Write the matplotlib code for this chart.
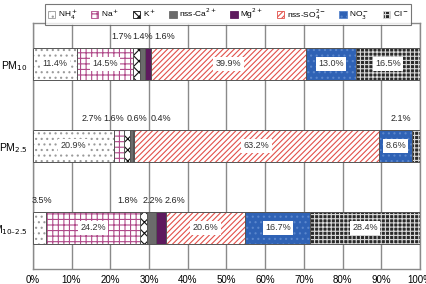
import matplotlib.pyplot as plt
import numpy as np

plt.rcParams['font.family'] = ['Liberation Sans', 'DejaVu Sans']
plt.rcParams['hatch.linewidth'] = 0.8

sizes = ['PM$_{10}$', 'PM$_{2.5}$', 'M$_{10\u20132.5}$']
species = ['NH$_4^+$', 'Na$^+$', 'K$^+$', 'nss-Ca$^{2+}$', 'Mg$^{2+}$',
           'nss-SO$_4^{2-}$', 'NO$_3^-$', 'Cl$^-$']

pm10 = [11.4, 14.5, 1.7, 1.4, 1.6, 39.9, 13.0, 16.5]
pm25 = [20.9, 2.7, 1.6, 0.6, 0.4, 63.2, 8.6, 2.1]
pm_coarse = [3.5, 24.2, 1.8, 2.2, 2.6, 20.6, 16.7, 28.4]

# face colour, hatch colour, hatch pattern for each species
faces = ['white', 'white', 'white', '#6b6b6b', '#5e1a5e', 'white', '#2f62b5', '#2a2a2a']
hatch_cols = ['#9a9a9a', '#b04a8a', '#111111', '#6b6b6b', '#5e1a5e', '#e2504a', '#5a86cc', '#d8d8d8']
hatches = ['...', '+++', 'xxx', None, None, '//////', '...', '++++']

# small values are written above the bar (x position of the label in %)
outside = {
    0: {2: 23.0, 3: 28.4, 4: 34.0},
    1: {1: 15.2, 2: 21.0, 3: 27.0, 4: 33.0, 7: 95.0},
    2: {0: 2.4, 2: 24.5, 3: 31.0, 4: 36.7},
}

data = [pm10, pm25, pm_coarse]

fig = plt.figure(figsize=(4.26, 2.84), dpi=100)
ax = fig.add_axes([0.077, 0.053, 0.909, 0.866])

h = 0.4
for i, row in enumerate(data):
    left = 0.0
    for j, v in enumerate(row):
        ax.barh(i, v, left=left, height=h, color=faces[j], edgecolor=hatch_cols[j],
                hatch=hatches[j], linewidth=0, zorder=3)
        ax.barh(i, v, left=left, height=h, fill=False, edgecolor='#555555',
                linewidth=0.7, zorder=4)
        label = f'{v:.1f}%'
        if j in outside[i]:
            ax.text(outside[i][j], i - 0.33, label, ha='center', va='center',
                    fontsize=6.5, color='#222222', zorder=5)
        else:
            ax.text(left + v / 2, i, label, ha='center', va='center', fontsize=6.5,
                    color='#333333', zorder=5,
                    bbox=dict(boxstyle='square,pad=0.25', fc='white', ec='none'))
        left += v

ax.set_xlim(0, 100)
ax.set_ylim(2.5, -0.5)
ax.set_xticks(np.arange(0, 101, 10))
ax.set_xticklabels([f'{t}%' for t in range(0, 101, 10)], fontsize=7)
ax.set_yticks(range(len(sizes)))
ax.set_yticklabels(sizes, fontsize=7.5)
ax.tick_params(length=0, pad=4)
ax.xaxis.grid(True, color='#8a8a8a', linewidth=1.0, zorder=0)
for s in ax.spines.values():
    s.set_color('#8a8a8a')
    s.set_linewidth(1.0)

handles = [plt.Rectangle((0, 0), 1, 1, facecolor=faces[j], edgecolor=hatch_cols[j],
                         hatch=hatches[j], linewidth=0.6) for j in range(len(species))]
leg = fig.legend(handles, species, loc='upper center', bbox_to_anchor=(0.535, 1.0),
                 ncol=8, fontsize=6, frameon=True, fancybox=False, edgecolor='#555555',
                 handlelength=0.9, handleheight=0.9, handletextpad=0.3,
                 columnspacing=1.6, borderpad=0.35)
leg.get_frame().set_linewidth(0.8)

fig.savefig('out.png', dpi=100)
